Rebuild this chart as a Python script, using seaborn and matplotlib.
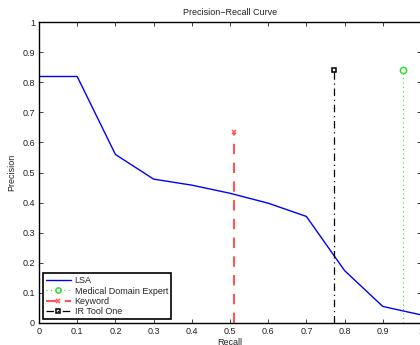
import matplotlib
matplotlib.use("Agg")
import matplotlib.pyplot as plt
import seaborn as sns
import pandas as pd

# LSA precision-recall curve
recall = [0.0, 0.1, 0.2, 0.3, 0.4, 0.5, 0.6, 0.7, 0.8, 0.9, 1.0]
precision = [0.819, 0.819, 0.560, 0.478, 0.458, 0.431, 0.398, 0.354, 0.174, 0.055, 0.027]

# single-point systems
point_names = ["Medical Domain Expert", "Keyword", "IR Tool One"]
point_recall = [0.954, 0.510, 0.772]
point_precision = [0.841, 0.633, 0.841]

x_ticks = [0, 0.1, 0.2, 0.3, 0.4, 0.5, 0.6, 0.7, 0.8, 0.9, 1]
x_tick_labels = ["0", "0.1", "0.2", "0.3", "0.4", "0.5", "0.6", "0.7", "0.8", "0.9", "1"]
y_ticks = [0, 0.1, 0.2, 0.3, 0.4, 0.5, 0.6, 0.7, 0.8, 0.9, 1]
y_tick_labels = ["0", "0.1", "0.2", "0.3", "0.4", "0.5", "0.6", "0.7", "0.8", "0.9", "1"]

sns.set_style("white")
plt.rcParams["font.family"] = ["Liberation Sans", "DejaVu Sans"]

FS = 6.5

fig = plt.figure(figsize=(4.2, 3.45), dpi=100)
ax = fig.add_axes([39 / 420, 22 / 345, 382 / 420, 301 / 345])

df = pd.DataFrame({"Recall": recall, "Precision": precision})
sns.lineplot(data=df, x="Recall", y="Precision", ax=ax, color="#0000ff",
             linewidth=1.0, label="LSA")

styles = {
    "Medical Domain Expert": dict(color="#33dd33", linestyle=(0, (1, 3)), marker="o",
                                  markersize=4.5, markerfacecolor="none",
                                  markeredgewidth=1.1, linewidth=0.8),
    "Keyword": dict(color="#ff5555", linestyle=(0, (5, 4)), marker="x",
                    markersize=3.5, markeredgewidth=1.1, linewidth=1.5),
    "IR Tool One": dict(color="black", linestyle=(0, (6, 3, 1, 3)), marker="s",
                        markersize=3.2, markerfacecolor="none",
                        markeredgewidth=1.1, linewidth=0.9),
}
for name, r, p in zip(point_names, point_recall, point_precision):
    ax.plot([r, r], [0, p], markevery=[1], label=name, **styles[name])

ax.set_xlim(0, 1)
ax.set_ylim(0, 1)
ax.set_xticks(x_ticks)
ax.set_xticklabels(x_tick_labels)
ax.set_yticks(y_ticks)
ax.set_yticklabels(y_tick_labels)
ax.tick_params(direction="in", length=3, width=0.6, labelsize=FS, top=True, right=True,
               bottom=True, left=True, pad=3, colors="#222222")
ax.set_xlabel("Recall", fontsize=FS, labelpad=1, color="#222222")
ax.set_ylabel("Precision", fontsize=FS, labelpad=4, color="#222222")
ax.set_title("Precision\u2212Recall Curve", fontsize=FS, pad=5, color="#222222")
for s in ax.spines.values():
    s.set_visible(True)
    s.set_color("black")
    s.set_linewidth(1.0)

leg = ax.legend(loc="lower left", fontsize=FS, frameon=True, fancybox=False,
                edgecolor="black", framealpha=1, borderpad=0.3, labelspacing=0.15,
                handlelength=2.8, handletextpad=0.4, borderaxespad=0.45, numpoints=1,
                markerscale=0.85)
leg.get_frame().set_linewidth(1.2)

fig.savefig("out.png", dpi=100)
